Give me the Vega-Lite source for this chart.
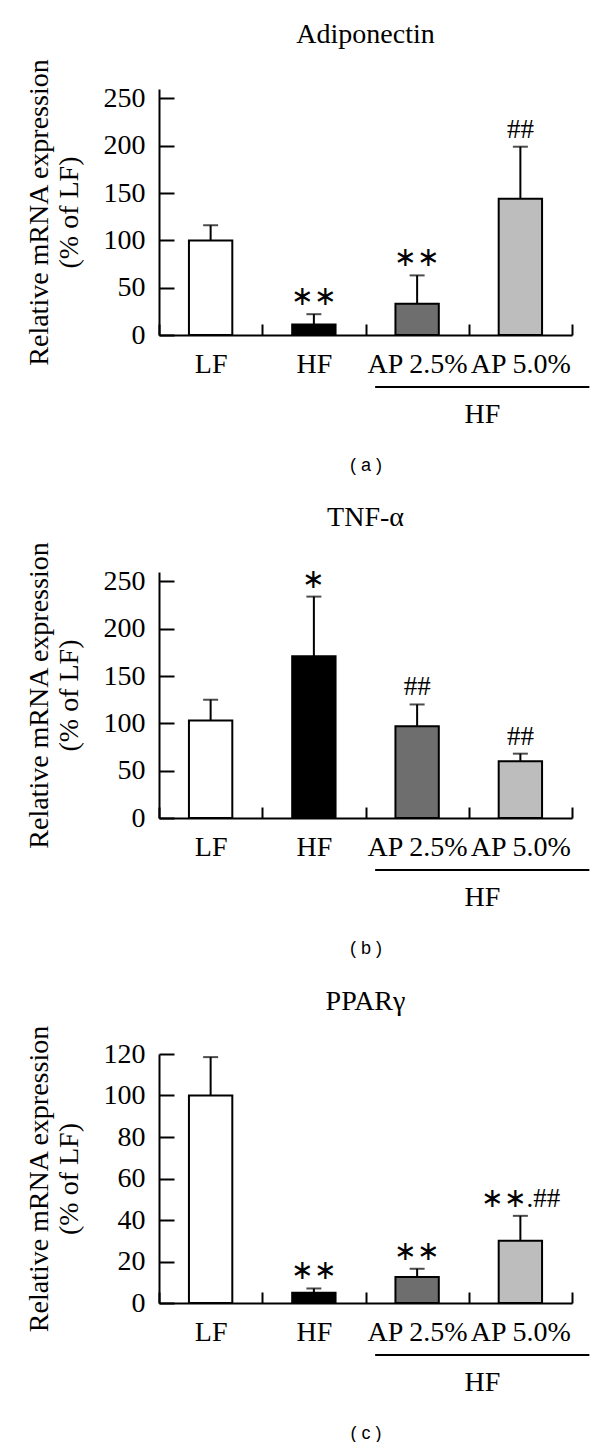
{
  "$schema": "https://vega.github.io/schema/vega-lite/v6.json",
  "background": "white",
  "padding": {"left": 25, "top": 21, "right": 0, "bottom": 0},
  "spacing": 30,
  "config": {
    "view": {"stroke": null},
    "axis": {
      "domainColor": "black", "domainWidth": 2, "tickColor": "black", "tickWidth": 2,
      "labelColor": "black", "titleColor": "black", "grid": false,
      "labelFont": "Liberation Serif", "titleFont": "Liberation Serif", "titleFontWeight": "normal"
    },
    "title": {"font": "Liberation Serif", "fontSize": 28, "fontWeight": "normal", "color": "black", "anchor": "middle", "offset": 9}
  },
  "datasets": {
    "adipo": [
      {"group": "LF", "mean": 100, "upper": 116, "sig": ""},
      {"group": "HF", "mean": 11, "upper": 22, "sig": "∗∗"},
      {"group": "AP 2.5%", "mean": 33, "upper": 63, "sig": "∗∗"},
      {"group": "AP 5.0%", "mean": 144, "upper": 199, "sig": "##"}
    ],
    "tnf": [
      {"group": "LF", "mean": 103, "upper": 125, "sig": ""},
      {"group": "HF", "mean": 171, "upper": 234, "sig": "∗"},
      {"group": "AP 2.5%", "mean": 97, "upper": 120, "sig": "##"},
      {"group": "AP 5.0%", "mean": 60, "upper": 68, "sig": "##"}
    ],
    "ppar": [
      {"group": "LF", "mean": 100, "upper": 118.5, "sig": ""},
      {"group": "HF", "mean": 5, "upper": 7, "sig": "∗∗"},
      {"group": "AP 2.5%", "mean": 12.5, "upper": 16.5, "sig": "∗∗"},
      {"group": "AP 5.0%", "mean": 30, "upper": 42, "sig": "∗∗.##"}
    ],
    "bracket": [{"label": "HF"}]
  },
  "vconcat": [
    {
      "title": "Adiponectin",
      "width": 413, "height": 246,
      "data": {"name": "adipo"},
      "encoding": {
        "x": {"field": "group", "type": "nominal", "sort": ["LF", "HF", "AP 2.5%", "AP 5.0%"],
          "scale": {"padding": 0},
          "axis": {"title": "( a )", "titleFont": "Liberation Sans", "titleFontSize": 18, "titlePadding": 78,
            "labelFontSize": 28, "labelAngle": 0, "labelPadding": 26, "tickBand": "extent", "tickSize": -11}}
      },
      "layer": [
        {"mark": {"type": "bar", "width": {"band": 0.42}, "stroke": "black", "strokeWidth": 2},
          "encoding": {
            "y": {"field": "mean", "type": "quantitative", "scale": {"domain": [0, 250]},
              "axis": {"title": ["Relative mRNA expression", "(% of LF)"], "titleFontSize": 28, "titleLineHeight": 30, "titlePadding": 20,
                "values": [0, 50, 100, 150, 200, 250], "labelFontSize": 28, "tickSize": -15, "labelPadding": 29}},
            "fill": {"field": "group", "type": "nominal", "legend": null,
              "scale": {"domain": ["LF", "HF", "AP 2.5%", "AP 5.0%"], "range": ["white", "black", "#6e6e6e", "#bdbdbd"]}}
          }},
        {"mark": {"type": "rule", "color": "black", "strokeWidth": 2},
          "encoding": {"y": {"field": "mean", "type": "quantitative"}, "y2": {"field": "upper"}}},
        {"mark": {"type": "tick", "color": "black", "thickness": 2, "size": 15, "orient": "horizontal"},
          "encoding": {"y": {"field": "upper", "type": "quantitative"}}},
        {"mark": {"type": "text", "font": "Liberation Serif", "fontSize": 27, "baseline": "middle", "dy": -17, "color": "black"},
          "encoding": {"y": {"field": "upper", "type": "quantitative"}, "text": {"field": "sig"}}},
        {"data": {"name": "bracket"},
          "mark": {"type": "rule", "color": "black", "strokeWidth": 2, "yOffset": 52, "xOffset": -42, "x2Offset": 69},
          "encoding": {"x": {"datum": "AP 2.5%"}, "x2": {"datum": "AP 5.0%"}, "y": {"datum": 0}}},
        {"data": {"name": "bracket"},
          "mark": {"type": "text", "font": "Liberation Serif", "fontSize": 28, "baseline": "middle", "yOffset": 80, "xOffset": -38, "color": "black"},
          "encoding": {"x": {"datum": "AP 5.0%"}, "y": {"datum": 0}, "text": {"field": "label"}}}
      ]
    },
    {
      "title": "TNF-α",
      "width": 413, "height": 246,
      "data": {"name": "tnf"},
      "encoding": {
        "x": {"field": "group", "type": "nominal", "sort": ["LF", "HF", "AP 2.5%", "AP 5.0%"],
          "scale": {"padding": 0},
          "axis": {"title": "( b )", "titleFont": "Liberation Sans", "titleFontSize": 18, "titlePadding": 78,
            "labelFontSize": 28, "labelAngle": 0, "labelPadding": 26, "tickBand": "extent", "tickSize": -11}}
      },
      "layer": [
        {"mark": {"type": "bar", "width": {"band": 0.42}, "stroke": "black", "strokeWidth": 2},
          "encoding": {
            "y": {"field": "mean", "type": "quantitative", "scale": {"domain": [0, 250]},
              "axis": {"title": ["Relative mRNA expression", "(% of LF)"], "titleFontSize": 28, "titleLineHeight": 30, "titlePadding": 20,
                "values": [0, 50, 100, 150, 200, 250], "labelFontSize": 28, "tickSize": -15, "labelPadding": 29}},
            "fill": {"field": "group", "type": "nominal", "legend": null,
              "scale": {"domain": ["LF", "HF", "AP 2.5%", "AP 5.0%"], "range": ["white", "black", "#6e6e6e", "#bdbdbd"]}}
          }},
        {"mark": {"type": "rule", "color": "black", "strokeWidth": 2},
          "encoding": {"y": {"field": "mean", "type": "quantitative"}, "y2": {"field": "upper"}}},
        {"mark": {"type": "tick", "color": "black", "thickness": 2, "size": 15, "orient": "horizontal"},
          "encoding": {"y": {"field": "upper", "type": "quantitative"}}},
        {"mark": {"type": "text", "font": "Liberation Serif", "fontSize": 27, "baseline": "middle", "dy": -17, "color": "black"},
          "encoding": {"y": {"field": "upper", "type": "quantitative"}, "text": {"field": "sig"}}},
        {"data": {"name": "bracket"},
          "mark": {"type": "rule", "color": "black", "strokeWidth": 2, "yOffset": 52, "xOffset": -42, "x2Offset": 69},
          "encoding": {"x": {"datum": "AP 2.5%"}, "x2": {"datum": "AP 5.0%"}, "y": {"datum": 0}}},
        {"data": {"name": "bracket"},
          "mark": {"type": "text", "font": "Liberation Serif", "fontSize": 28, "baseline": "middle", "yOffset": 80, "xOffset": -38, "color": "black"},
          "encoding": {"x": {"datum": "AP 5.0%"}, "y": {"datum": 0}, "text": {"field": "label"}}}
      ]
    },
    {
      "title": "PPARγ",
      "width": 413, "height": 249,
      "data": {"name": "ppar"},
      "encoding": {
        "x": {"field": "group", "type": "nominal", "sort": ["LF", "HF", "AP 2.5%", "AP 5.0%"],
          "scale": {"padding": 0},
          "axis": {"title": "( c )", "titleFont": "Liberation Sans", "titleFontSize": 18, "titlePadding": 78,
            "labelFontSize": 28, "labelAngle": 0, "labelPadding": 26, "tickBand": "extent", "tickSize": -11}}
      },
      "layer": [
        {"mark": {"type": "bar", "width": {"band": 0.42}, "stroke": "black", "strokeWidth": 2},
          "encoding": {
            "y": {"field": "mean", "type": "quantitative", "scale": {"domain": [0, 120]},
              "axis": {"title": ["Relative mRNA expression", "(% of LF)"], "titleFontSize": 28, "titleLineHeight": 30, "titlePadding": 20,
                "values": [0, 20, 40, 60, 80, 100, 120], "labelFontSize": 28, "tickSize": -15, "labelPadding": 29}},
            "fill": {"field": "group", "type": "nominal", "legend": null,
              "scale": {"domain": ["LF", "HF", "AP 2.5%", "AP 5.0%"], "range": ["white", "black", "#6e6e6e", "#bdbdbd"]}}
          }},
        {"mark": {"type": "rule", "color": "black", "strokeWidth": 2},
          "encoding": {"y": {"field": "mean", "type": "quantitative"}, "y2": {"field": "upper"}}},
        {"mark": {"type": "tick", "color": "black", "thickness": 2, "size": 15, "orient": "horizontal"},
          "encoding": {"y": {"field": "upper", "type": "quantitative"}}},
        {"mark": {"type": "text", "font": "Liberation Serif", "fontSize": 27, "baseline": "middle", "dy": -17, "color": "black"},
          "encoding": {"y": {"field": "upper", "type": "quantitative"}, "text": {"field": "sig"}}},
        {"data": {"name": "bracket"},
          "mark": {"type": "rule", "color": "black", "strokeWidth": 2, "yOffset": 52, "xOffset": -42, "x2Offset": 69},
          "encoding": {"x": {"datum": "AP 2.5%"}, "x2": {"datum": "AP 5.0%"}, "y": {"datum": 0}}},
        {"data": {"name": "bracket"},
          "mark": {"type": "text", "font": "Liberation Serif", "fontSize": 28, "baseline": "middle", "yOffset": 80, "xOffset": -38, "color": "black"},
          "encoding": {"x": {"datum": "AP 5.0%"}, "y": {"datum": 0}, "text": {"field": "label"}}}
      ]
    }
  ]
}
